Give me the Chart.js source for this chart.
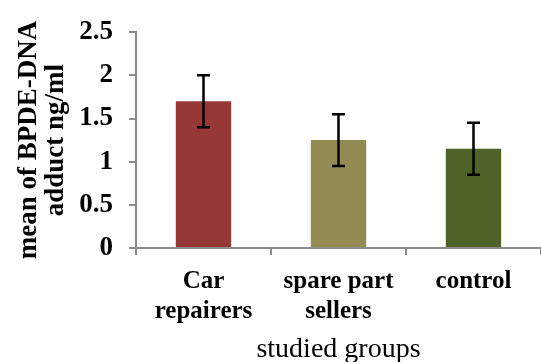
<!DOCTYPE html>
<html>
<head>
<meta charset="utf-8">
<script src="https://cdn.jsdelivr.net/npm/chart.js@4"></script>
<style>
  html, body { margin: 0; padding: 0; background: #fff; }
  #wrap { width: 541px; height: 362px; }
</style>
</head>
<body>
<div id="wrap"><canvas id="myChart" width="541" height="362"></canvas></div>
<script>
const groups = [['Car', 'repairers'], ['spare part', 'sellers'], 'control'];
const means = [1.7, 1.25, 1.15];
const errors = [0.3, 0.3, 0.3];
const barColors = ['#953735', '#948A54', '#4F6228'];
const yTicks = [0, 0.5, 1, 1.5, 2, 2.5];

// error bars drawn through the scales
const errorBars = {
  id: 'errorBars',
  afterDatasetsDraw(chart) {
    const ctx = chart.ctx;
    const x = chart.scales.x, y = chart.scales.y;
    ctx.save();
    ctx.strokeStyle = '#000';
    ctx.lineWidth = 2.5;
    means.forEach((m, i) => {
      const cx = x.getPixelForValue(i);
      const top = y.getPixelForValue(m + errors[i]);
      const bot = y.getPixelForValue(m - errors[i]);
      ctx.beginPath();
      ctx.moveTo(cx, top); ctx.lineTo(cx, bot);
      ctx.moveTo(cx - 6.5, top); ctx.lineTo(cx + 6.5, top);
      ctx.moveTo(cx - 6.5, bot); ctx.lineTo(cx + 6.5, bot);
      ctx.stroke();
    });
    ctx.restore();
  }
};

const serif = '"Liberation Serif", "Times New Roman", serif';

new Chart(document.getElementById('myChart'), {
  type: 'bar',
  data: {
    labels: groups,
    datasets: [{
      data: means,
      backgroundColor: barColors,
      barPercentage: 0.41,
      categoryPercentage: 1
    }]
  },
  options: {
    responsive: false,
    animation: false,
    layout: { padding: { top: 12, right: 0, left: 0, bottom: 0 } },
    plugins: { legend: { display: false }, tooltip: { enabled: false } },
    scales: {
      x: {
        grid: { drawOnChartArea: false, color: '#8c8c8c', tickLength: 7, lineWidth: 2 },
        border: { color: '#8c8c8c', width: 2 },
        ticks: {
          color: '#000', padding: 12, maxRotation: 0,
          font: { family: serif, size: 25, weight: 'bold', lineHeight: 1.2 }
        },
        title: {
          display: true, text: 'studied groups', color: '#000',
          font: { family: serif, size: 28 }, padding: { top: 0, bottom: -4 }
        },
        afterFit(s) { s.height = 114; }
      },
      y: {
        min: 0, max: 2.5,
        afterBuildTicks(s) { s.ticks = yTicks.map(v => ({ value: v })); },
        grid: { drawOnChartArea: false, color: '#8c8c8c', tickLength: 7, lineWidth: 2 },
        border: { color: '#8c8c8c', width: 2 },
        ticks: {
          color: '#000', padding: 16,
          font: { family: serif, size: 27, weight: 'bold' },
          callback: v => String(v)
        },
        title: {
          display: true, text: ['mean of BPDE-DNA', 'adduct ng/ml'], color: '#000',
          font: { family: serif, size: 27, weight: 'bold', lineHeight: 1.0 },
          padding: { top: 16, bottom: 0 }
        },
        afterFit(s) { s.width = 136; }
      }
    }
  },
  plugins: [errorBars]
});
</script>
</body>
</html>
